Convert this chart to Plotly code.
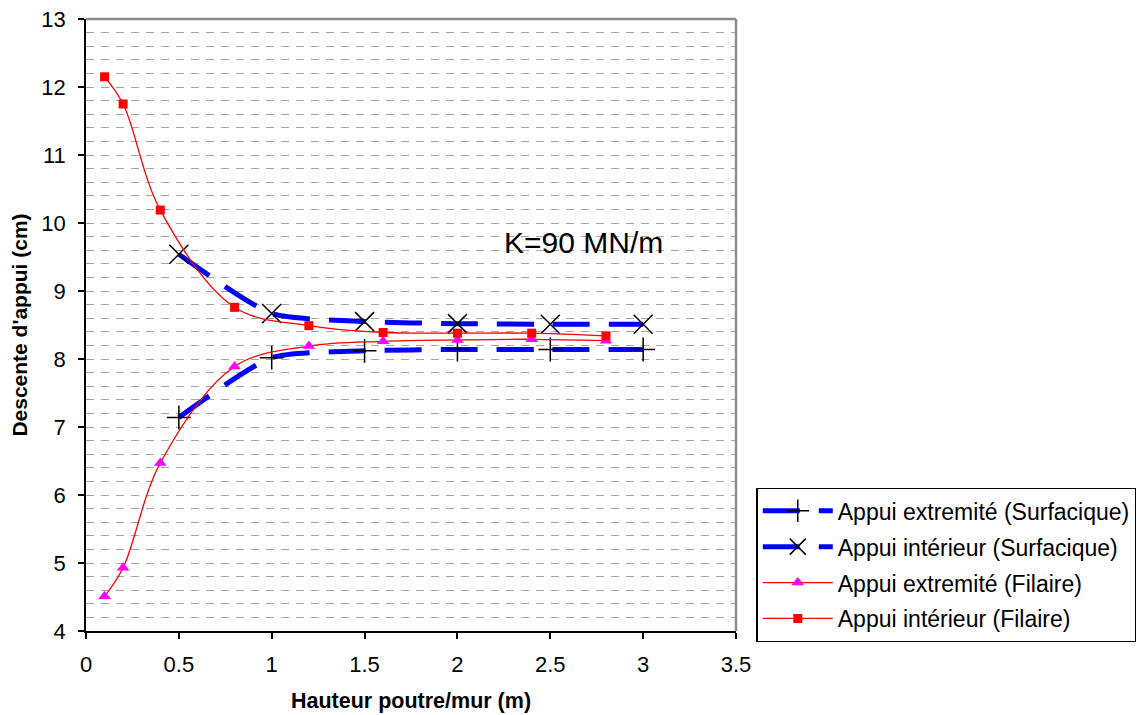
import plotly.graph_objects as go

# Data
x_surf = [0.5, 1.0, 1.5, 2.0, 2.5, 3.0]
y_surf_ext = [7.14, 8.02, 8.12, 8.14, 8.14, 8.14]
y_surf_int = [9.54, 8.67, 8.55, 8.52, 8.51, 8.51]

x_fil = [0.1, 0.2, 0.4, 0.8, 1.2, 1.6, 2.0, 2.4, 2.8]
y_fil_ext = [4.51, 4.93, 6.47, 7.89, 8.19, 8.26, 8.28, 8.29, 8.27]
y_fil_int = [12.15, 11.75, 10.19, 8.76, 8.49, 8.39, 8.38, 8.38, 8.34]

names = ["Appui extremité (Surfacique)", "Appui intérieur (Surfacique)",
         "Appui extremité (Filaire)", "Appui intérieur (Filaire)"]

x_ticks = [0, 0.5, 1, 1.5, 2, 2.5, 3, 3.5]
x_ticklabels = ["0", "0.5", "1", "1.5", "2", "2.5", "3", "3.5"]
y_ticks = list(range(4, 14))

FONT = "Arial, 'Liberation Sans', sans-serif"

fig = go.Figure()

blue_line = dict(color="#0000FF", width=5, dash="37px,19px", shape="spline", smoothing=0.6)
red_line = dict(color="#FF0000", width=1.3, shape="spline", smoothing=1.0)

fig.add_trace(go.Scatter(
    x=x_surf, y=y_surf_ext, name=names[0], mode="lines+markers", legendgroup="a",
    line=blue_line,
    marker=dict(symbol="cross-thin", size=17, color="black", line=dict(color="black", width=1.5)),
))
fig.add_trace(go.Scatter(
    x=x_surf, y=y_surf_int, name=names[1], mode="lines+markers", legendgroup="b",
    line=blue_line,
    marker=dict(symbol="x-thin", size=19, color="black", line=dict(color="black", width=1.5)),
))
fig.add_trace(go.Scatter(
    x=x_fil, y=y_fil_ext, name=names[2], mode="lines+markers", legendgroup="c",
    line=red_line,
    marker=dict(symbol="triangle-up", size=11, color="#FF00FF", line=dict(width=0)),
))
fig.add_trace(go.Scatter(
    x=x_fil, y=y_fil_int, name=names[3], mode="lines+markers", legendgroup="d",
    line=red_line,
    marker=dict(symbol="square", size=9, color="#FF0000", line=dict(width=0)),
))

grid_color = "#A6A6A6"

fig.update_layout(
    width=1143, height=715,
    margin=dict(l=86, r=406.5, t=19, b=84, autoexpand=False),
    paper_bgcolor="white", plot_bgcolor="white",
    font=dict(family=FONT, size=22, color="black"),
    showlegend=True,
    legend=dict(
        x=1.0315, y=0.2337, xanchor="left", yanchor="top",
        bordercolor="black", borderwidth=1.3, bgcolor="white",
        font=dict(family=FONT, size=23, color="black"),
        itemwidth=70, tracegroupgap=3,
    ),
    xaxis=dict(
        range=[0, 3.5], tickvals=x_ticks, ticktext=x_ticklabels,
        showline=True, linecolor="black", linewidth=1.5,
        ticks="outside", ticklen=6, tickwidth=1.5, tickcolor="black",
        showgrid=False, zeroline=False, ticklabelstandoff=7,
        tickfont=dict(size=22),
        title=dict(text="<b>Hauteur poutre/mur (m)</b>", font=dict(size=21.5), standoff=17),
    ),
    yaxis=dict(
        range=[4, 13], tickvals=y_ticks,
        showline=True, linecolor="black", linewidth=1.5,
        ticks="outside", ticklen=6, tickwidth=1.5, tickcolor="black",
        showgrid=True, gridcolor=grid_color, griddash="8px,7px", gridwidth=1.2,
        zeroline=False, ticklabelstandoff=8,
        tickfont=dict(size=22),
        minor=dict(dtick=0.2, showgrid=True, gridcolor=grid_color, griddash="8px,7px", gridwidth=1.2),
        title=dict(text="<b>Descente d'appui (cm)</b>", font=dict(size=21), standoff=8),
    ),
    annotations=[dict(
        x=2.68, y=9.71, xref="x", yref="y", text="K=90 MN/m", showarrow=False,
        font=dict(family=FONT, size=30, color="black"), xanchor="center", yanchor="middle",
    )],
    shapes=[
        dict(type="line", xref="x domain", yref="y domain", x0=0, x1=1, y0=1, y1=1,
             line=dict(color="#8C8C8C", width=2.5)),
        dict(type="line", xref="x domain", yref="y domain", x0=1, x1=1, y0=0, y1=1,
             line=dict(color="#8C8C8C", width=2.5)),
    ],
)

fig.write_html("out.html")
